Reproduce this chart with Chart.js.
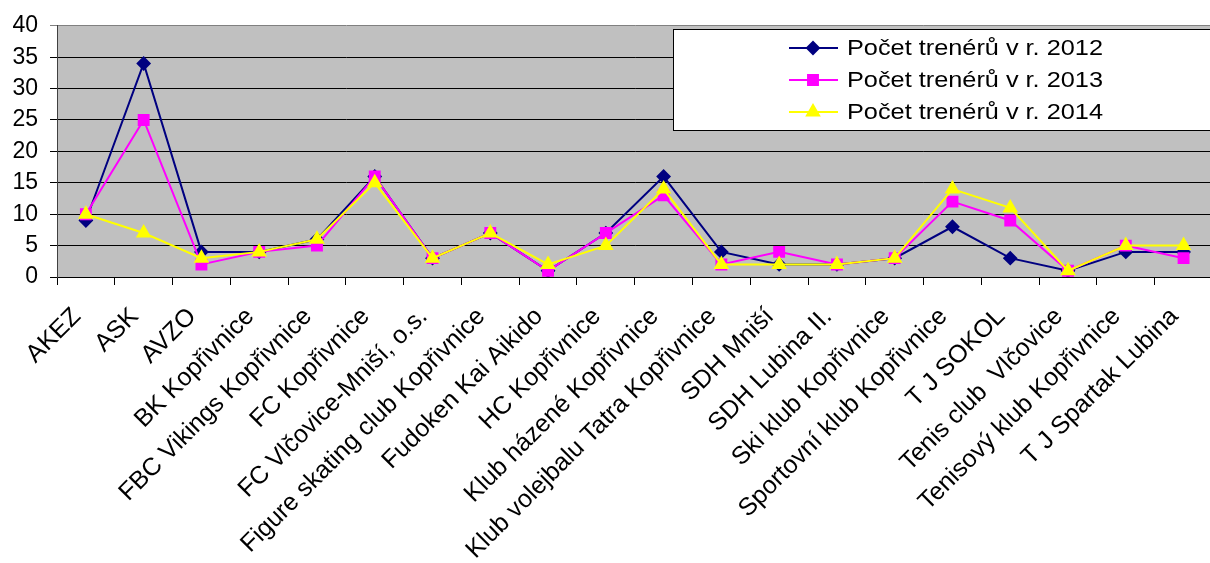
<!DOCTYPE html>
<html>
<head>
<meta charset="utf-8">
<script src="https://cdn.jsdelivr.net/npm/chart.js@4/dist/chart.umd.min.js"></script>
<style>
  html, body { margin: 0; padding: 0; background: #fff; overflow: hidden; }
</style>
</head>
<body>
<!-- plot runs a little past the right edge of the window, as in the picture -->
<canvas id="trenerChart" width="1222" height="563"></canvas>
<script>

const clubs = ["AKEZ", "ASK", "AVZO", "BK Kopřivnice", "FBC Vikings Kopřivnice", "FC Kopřivnice",
  "FC Vlčovice-Mniší, o.s.", "Figure skating club Kopřivnice", "Fudoken Kai Aikido", "HC Kopřivnice",
  "Klub házené Kopřivnice", "Klub volejbalu Tatra Kopřivnice", "SDH Mniší", "SDH Lubina II.",
  "Ski klub Kopřivnice", "Sportovní klub Kopřivnice", "T J SOKOL", "Tenis club  Vlčovice",
  "Tenisový klub Kopřivnice", "T J Spartak Lubina"];

const treneri2012 = [9, 34, 4, 4, 6, 16, 3, 7, 1, 7, 16, 4, 2, 2, 3, 8, 3, 1, 4, 4];
const treneri2013 = [10, 25, 2, 4, 5, 16, 3, 7, 1, 7, 13, 2, 4, 2, 3, 12, 9, 1, 5, 3];
const treneri2014 = [10, 7, 3, 4, 6, 15, 3, 7, 2, 5, 14, 2, 2, 2, 3, 14, 11, 1, 5, 5];

const seriesNames = ["Počet trenérů v r. 2012", "Počet trenérů v r. 2013", "Počet trenérů v r. 2014"];
const yTicks = [0, 5, 10, 15, 20, 25, 30, 35, 40];

const font = "'Liberation Sans', Arial, sans-serif";

// gray plot background
const plotBg = {
  id: "plotBg",
  beforeDraw(chart) {
    const a = chart.chartArea;
    const ctx = chart.ctx;
    ctx.save();
    ctx.fillStyle = "#c0c0c0";
    ctx.fillRect(a.left, a.top, a.right - a.left, a.bottom - a.top);
    ctx.restore();
  }
};

// legend box drawn inside the plot, top right
const boxLegend = {
  id: "boxLegend",
  afterDraw(chart) {
    const ctx = chart.ctx;
    ctx.save();
    ctx.fillStyle = "#fff";
    ctx.fillRect(673.5, 29.5, 560, 101);
    ctx.strokeStyle = "#000";
    ctx.lineWidth = 1;
    ctx.strokeRect(673.5, 29.5, 560, 101);
    const rows = [48, 80, 112];
    chart.data.datasets.forEach(function(ds, i) {
      const y = rows[i];
      ctx.strokeStyle = ds.borderColor;
      ctx.lineWidth = 2;
      ctx.beginPath();
      ctx.moveTo(789, y);
      ctx.lineTo(838, y);
      ctx.stroke();
      ctx.fillStyle = ds.pointBackgroundColor;
      ctx.strokeStyle = ds.pointBorderColor;
      Chart.helpers.drawPoint(ctx, {
        pointStyle: ds.pointStyle, radius: ds.pointRadius, borderWidth: 1, rotation: 0
      }, 813, y);
      // text in the picture is a bit wider than the font
      ctx.save();
      ctx.translate(847, y + 1);
      ctx.scale(1.15, 1);
      ctx.fillStyle = "#000";
      ctx.font = "22px " + font;
      ctx.textBaseline = "middle";
      ctx.textAlign = "left";
      ctx.fillText(ds.label, 0, 0);
      ctx.restore();
    });
    ctx.restore();
  }
};

function series(label, data, color, style, radius, order) {
  return {
    label: label,
    data: data,
    borderColor: color,
    backgroundColor: color,
    pointBackgroundColor: color,
    pointBorderColor: color,
    pointStyle: style,
    pointRadius: radius,
    pointHoverRadius: radius,
    borderWidth: 2,
    tension: 0,
    order: order
  };
}

new Chart("trenerChart", {
  type: "line",
  data: {
    labels: clubs,
    datasets: [
      series(seriesNames[0], treneri2012, "#000080", "rectRot", 6, 3),
      series(seriesNames[1], treneri2013, "#ff00ff", "rect", 7, 2),
      series(seriesNames[2], treneri2014, "#ffff00", "triangle", 7, 1)
    ]
  },
  options: {
    responsive: false,
    animation: false,
    devicePixelRatio: 1,
    layout: { padding: { top: 24, right: 0, left: 0, bottom: 0 } },
    plugins: {
      legend: { display: false },
      tooltip: { enabled: false }
    },
    scales: {
      x: {
        offset: true,
        grid: { offset: true, drawOnChartArea: false, color: "#000", tickLength: 8 },
        border: { color: "#000", width: 1 },
        ticks: {
          autoSkip: false, minRotation: 45, maxRotation: 45, padding: 17, labelOffset: -9,
          color: "#000", font: { family: font, size: 25 }
        },
        afterFit(scale) { scale.height = 286; }
      },
      y: {
        min: 0,
        max: 40,
        afterBuildTicks(scale) { scale.ticks = yTicks.map(v => ({ value: v })); },
        grid: {
          color: ctx => ctx.tick && ctx.tick.value === 40 ? "#808080" : "#000",
          tickLength: 7
        },
        border: { color: "#404040", width: 1 },
        ticks: { padding: 12, color: "#000", font: { family: font, size: 23 } },
        afterFit(scale) { scale.width = 57; }
      }
    }
  },
  plugins: [plotBg, boxLegend]
});
</script>
</body>
</html>
